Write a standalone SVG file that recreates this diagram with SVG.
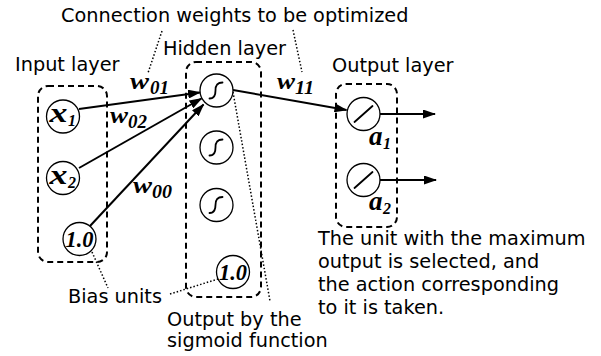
<svg xmlns="http://www.w3.org/2000/svg" width="601" height="356" viewBox="0 0 601 356">
<style>
.lbl{font-family:"DejaVu Sans",Verdana,sans-serif;font-size:19.3px;fill:#000}
.m{font-family:"Liberation Serif","Times New Roman",serif;font-weight:bold;font-style:italic;fill:#000}
.box{fill:none;stroke:#000;stroke-width:2;stroke-dasharray:6,4}
.nd{fill:#fff;stroke:#000;stroke-width:1.3}
.sym{fill:none;stroke:#000;stroke-width:1.8;stroke-linecap:round}
.cn{fill:none;stroke:#000;stroke-width:2}
.dot{fill:none;stroke:#000;stroke-width:1.5;stroke-dasharray:1.5,2}
</style>
<defs>
<marker id="arr" markerWidth="13" markerHeight="9" refX="12" refY="4.5" orient="auto" markerUnits="userSpaceOnUse">
<path d="M0,0 L13,4.5 L0,9 z" fill="#000"/>
</marker>
<path id="sig" d="M-7,8 C-2,8 -1,4 -1,0 C-1,-4 0,-8 6,-8" class="sym"/>
<path id="lin" d="M-9,8 L9,-8" class="sym"/>
</defs>

<g id="layer-boxes">
<rect id="input-box" class="box" x="38" y="86" width="69" height="176" rx="10"/>
<rect id="hidden-box" class="box" x="186" y="62" width="75" height="235" rx="10"/>
<rect id="output-box" class="box" x="336" y="84" width="61" height="143" rx="10"/>
</g>

<g id="labels">
<text class="lbl" x="61" y="22">Connection weights to be optimized</text>
<text class="lbl" x="163" y="55">Hidden layer</text>
<text class="lbl" x="15" y="71">Input layer</text>
<text class="lbl" x="332" y="72">Output layer</text>
<text class="lbl" x="68" y="303">Bias units</text>
<text class="lbl" x="167" y="326">Output by the</text>
<text class="lbl" x="167" y="347">sigmoid function</text>
<text class="lbl" x="318" y="245">The unit with the maximum</text>
<text class="lbl" x="318" y="268">output is selected, and</text>
<text class="lbl" x="318" y="291">the action corresponding</text>
<text class="lbl" x="318" y="314">to it is taken.</text>
</g>

<g id="connectors">
<line class="cn" x1="79" y1="109" x2="200" y2="92.5" marker-end="url(#arr)"/>
<line class="cn" x1="79" y1="168" x2="201.5" y2="98.5" marker-end="url(#arr)"/>
<line class="cn" x1="90" y1="226" x2="203.5" y2="104.5" marker-end="url(#arr)"/>
<line class="cn" x1="233" y1="90" x2="346.5" y2="110" marker-end="url(#arr)"/>
<line class="cn" x1="380" y1="114" x2="435" y2="114" marker-end="url(#arr)"/>
<line class="cn" x1="380" y1="180" x2="436" y2="180" marker-end="url(#arr)"/>
<line class="dot" x1="162" y1="31" x2="148" y2="73"/>
<line class="dot" x1="293" y1="30" x2="302" y2="72"/>
<line class="dot" x1="92" y1="252" x2="108" y2="288"/>
<line class="dot" x1="170" y1="294" x2="218" y2="279"/>
<line class="dot" x1="233" y1="92" x2="270" y2="301"/>
</g>

<g id="weights">
<text class="m" x="130" y="89" font-size="24" textLength="19" lengthAdjust="spacingAndGlyphs">w</text>
<text class="m" x="150" y="94" font-size="19" textLength="19" lengthAdjust="spacingAndGlyphs">01</text>
<text class="m" x="110" y="123" font-size="24" textLength="18" lengthAdjust="spacingAndGlyphs">w</text>
<text class="m" x="128" y="128" font-size="19" textLength="19" lengthAdjust="spacingAndGlyphs">02</text>
<text class="m" x="277" y="89" font-size="24" textLength="18" lengthAdjust="spacingAndGlyphs">w</text>
<text class="m" x="295" y="94" font-size="19" textLength="19" lengthAdjust="spacingAndGlyphs">11</text>
<text class="m" x="133" y="193" font-size="24" textLength="19" lengthAdjust="spacingAndGlyphs">w</text>
<text class="m" x="152" y="198" font-size="19" textLength="20" lengthAdjust="spacingAndGlyphs">00</text>
</g>

<g id="node-x1">
<circle class="nd" cx="63" cy="116.5" r="16.5"/>
<text class="m" x="49.5" y="122" font-size="28" textLength="18" lengthAdjust="spacingAndGlyphs">x</text>
<text class="m" x="68" y="126" font-size="16">1</text>
</g>
<g id="node-x2">
<circle class="nd" cx="63" cy="178" r="16.5"/>
<text class="m" x="49.5" y="183.5" font-size="28" textLength="18" lengthAdjust="spacingAndGlyphs">x</text>
<text class="m" x="68" y="187.5" font-size="16">2</text>
</g>
<g id="node-bias-in">
<circle class="nd" cx="79.5" cy="239" r="16.5"/>
<text class="m" x="65.5" y="247" font-size="23" textLength="28" lengthAdjust="spacingAndGlyphs">1.0</text>
</g>

<g id="node-h1">
<circle class="nd" cx="216.5" cy="90.5" r="16.5"/>
<use href="#sig" x="216.5" y="90.5"/>
</g>
<g id="node-h2">
<circle class="nd" cx="216.5" cy="147.5" r="16.5"/>
<use href="#sig" x="216.5" y="147.5"/>
</g>
<g id="node-h3">
<circle class="nd" cx="216.5" cy="205" r="16.5"/>
<use href="#sig" x="216.5" y="205"/>
</g>
<g id="node-bias-hid">
<circle class="nd" cx="233" cy="272" r="16.5"/>
<text class="m" x="219" y="280" font-size="23" textLength="28" lengthAdjust="spacingAndGlyphs">1.0</text>
</g>

<g id="node-a1">
<circle class="nd" cx="363.5" cy="114" r="16.5"/>
<use href="#lin" x="363.5" y="114"/>
<text class="m" x="369" y="145" font-size="27">a</text>
<text class="m" x="383" y="148.5" font-size="16">1</text>
</g>
<g id="node-a2">
<circle class="nd" cx="363.5" cy="180" r="16.5"/>
<use href="#lin" x="363.5" y="180"/>
<text class="m" x="369" y="210" font-size="27">a</text>
<text class="m" x="383" y="213.5" font-size="16">2</text>
</g>
</svg>
